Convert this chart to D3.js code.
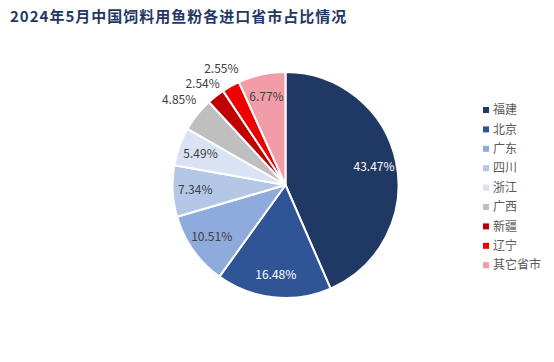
<!DOCTYPE html>
<html>
  <head>
    <meta charset="UTF-8">
    <title>2024年5月中国饲料用鱼粉各进口省市占比情况</title>
    <script src="https://d3js.org/d3.v7.min.js"></script>
    <style>
      body { margin: 0; background: #fff; }
      text { font-family: "Noto Sans CJK SC", "Noto Sans", sans-serif; }
    </style>
  </head>
  <body>
    <svg width="554" height="362"></svg>
    <script>
      const provinces = ["福建", "北京", "广东", "四川", "浙江", "广西", "新疆", "辽宁", "其它省市"];
      const shares = [43.47, 16.48, 10.51, 7.34, 5.49, 4.85, 2.54, 2.55, 6.77];
      const colors = ["#203864", "#2f5597", "#8faadc", "#b4c7e7", "#dae3f3", "#bfbfbf", "#c00000", "#ee0000", "#f19ca6"];

      const width = 554;
      const height = 362;
      const cx = 285.5, cy = 185, R = 113;

      const data = provinces.map((p, i) => ({ name: p, value: shares[i], color: colors[i] }));

      const svg = d3.select("svg");

      svg.append("text")
        .attr("x", 10)
        .attr("y", 22)
        .attr("fill", "#1f3864")
        .attr("font-size", 15)
        .attr("font-weight", "bold")
        .attr("letter-spacing", 1)
        .text("2024年5月中国饲料用鱼粉各进口省市占比情况");

      const pie = d3.pie().value(d => d.value).sort(null);
      const arc = d3.arc().innerRadius(0).outerRadius(R);
      const arcs = pie(data);

      const g = svg.append("g").attr("transform", `translate(${cx},${cy})`);

      g.selectAll("path")
        .data(arcs)
        .join("path")
        .attr("d", arc)
        .attr("fill", d => d.data.color)
        .attr("stroke", "#fff")
        .attr("stroke-width", 2)
        .attr("stroke-linejoin", "round");

      // label positions: small slices go outside the pie
      arcs.forEach(d => {
        const a = (d.startAngle + d.endAngle) / 2;
        const s = Math.sin(a), c = Math.cos(a);
        d.outside = d.data.value < 5;
        const r = d.outside ? R + 5 + Math.abs(s) * 18 + Math.abs(c) * 6.5 : R * 0.8;
        d.lx = r * s;
        d.ly = -r * c;
      });
      // keep outside labels from stacking on each other (walk from the top down)
      const outs = arcs.filter(d => d.outside).sort((a, b) => a.ly - b.ly);
      for (let i = 1; i < outs.length; i++) {
        if (outs[i].ly < outs[i - 1].ly + 15) outs[i].ly = outs[i - 1].ly + 15;
      }

      g.selectAll("text.lbl")
        .data(arcs)
        .join("text")
        .attr("class", "lbl")
        .attr("font-size", 12)
        .attr("text-anchor", "middle")
        .attr("dy", "0.35em")
        .attr("fill", (d, i) => i < 2 ? "#fff" : "#404040")
        .attr("x", d => d.lx)
        .attr("y", d => d.ly)
        .text(d => d.data.value.toFixed(2) + "%");

      const legend = svg.append("g").attr("transform", "translate(483,110)");
      const item = legend.selectAll("g")
        .data(data)
        .join("g")
        .attr("transform", (d, i) => `translate(0,${i * 19.4})`);

      item.append("rect")
        .attr("x", 0)
        .attr("y", -3)
        .attr("width", 6)
        .attr("height", 6)
        .attr("fill", d => d.color);

      item.append("text")
        .attr("x", 10)
        .attr("dy", "0.35em")
        .attr("font-size", 12)
        .attr("fill", "#595959")
        .text(d => d.name);
    </script>
  </body>
</html>
